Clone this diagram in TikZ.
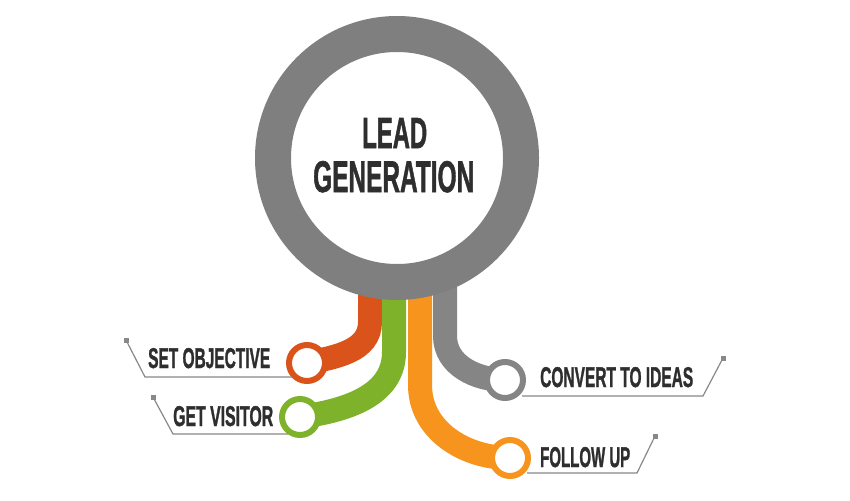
\documentclass[tikz,border=0pt]{standalone}
\usepackage{fontspec}
\setmainfont[BoldFeatures={FakeBold=1.6}]{Liberation Sans}
\usepackage{graphicx}
\definecolor{ringgray}{HTML}{7F7F7F}
\definecolor{cred}{HTML}{D9531A}
\definecolor{cgreen}{HTML}{7DB22A}
\definecolor{corange}{HTML}{F7941D}
\definecolor{cgray}{HTML}{858585}
\definecolor{txt}{HTML}{2E2E2E}
\definecolor{linegray}{HTML}{888888}
\newcommand{\fitlab}[3]{\resizebox{#1pt}{#2pt}{\bfseries #3}}
\begin{document}
\begin{tikzpicture}[x=1pt,y=-1pt,
  stem/.style={line width=24pt, line cap=butt},
  knob/.style={circle, draw=#1, fill=white, line width=6pt, minimum size=36pt, inner sep=0pt},
  lab/.style={anchor=base west, inner sep=0pt, text=txt, font=\bfseries},
  uline/.style={draw=linegray, line width=1.2pt},
  sq/.style={fill=linegray, minimum size=5pt, inner sep=0pt, rectangle}]
\fill[white] (0,0) rectangle (850,500);
\useasboundingbox (0,0) rectangle (850,500);
% stem origins
\coordinate (rs) at (370,285);
\coordinate (gs) at (394,285);
\coordinate (os) at (420,285);
\coordinate (ys) at (445,285);
\coordinate (rb) at (370,322);
\coordinate (gb) at (394,352);
\coordinate (ob) at (420,385);
\coordinate (yb) at (445,336);
% knobs positions
\coordinate (kset) at (307,363);
\coordinate (kget) at (300,417);
\coordinate (kconv) at (505,380);
\coordinate (kfol) at (510,458);
% stems
\draw[stem, cred] (rs) -- (rb) to[out=-90,in=12] (kset);
\draw[stem, cgreen] (gs) -- (gb) to[out=-90,in=8] (kget);
\draw[stem, corange] (os) -- (ob) to[out=-90,in=180] (kfol);
\draw[stem, cgray] (ys) -- (yb) to[out=-90,in=180] (kconv);
% big ring
\node[circle, draw=ringgray, fill=white, line width=36pt, minimum size=248pt, inner sep=0pt] (ring) at (397,158) {};
\node[lab] (lead) at (362,148) {\fitlab{65}{30}{LEAD}};
\node[lab] (gen) at (313,192) {\fitlab{161}{31}{GENERATION}};
% knobs
\node[knob=cred] (set) at (kset) {};
\node[knob=cgreen] (get) at (kget) {};
\node[knob=cgray] (conv) at (kconv) {};
\node[knob=corange] (fol) at (kfol) {};
% labels
\node[lab] (tset) at (148,368) {\fitlab{122}{20}{SET OBJECTIVE}};
\node[lab] (tget) at (173,426) {\fitlab{100}{20}{GET VISITOR}};
\node[lab] (tconv) at (540,387) {\fitlab{153}{20}{CONVERT TO IDEAS}};
\node[lab] (tfol) at (540,467) {\fitlab{90}{20}{FOLLOW UP}};
% underlines
\node[sq] (q1) at (126,340) {};
\coordinate (c1) at (145,377);
\coordinate (e1) at (292,377);
\draw[uline] (q1.center) -- (c1) -- (e1);
\node[sq] (q2) at (153,397) {};
\coordinate (c2) at (173,434);
\coordinate (e2) at (288,434);
\draw[uline] (q2.center) -- (c2) -- (e2);
\node[sq] (q3) at (723,358) {};
\coordinate (c3) at (703,396);
\coordinate (e3) at (522,396);
\draw[uline] (e3) -- (c3) -- (q3.center);
\node[sq] (q4) at (655,436) {};
\coordinate (c4) at (637,473);
\coordinate (e4) at (527,473);
\draw[uline] (e4) -- (c4) -- (q4.center);
\end{tikzpicture}
\end{document}
